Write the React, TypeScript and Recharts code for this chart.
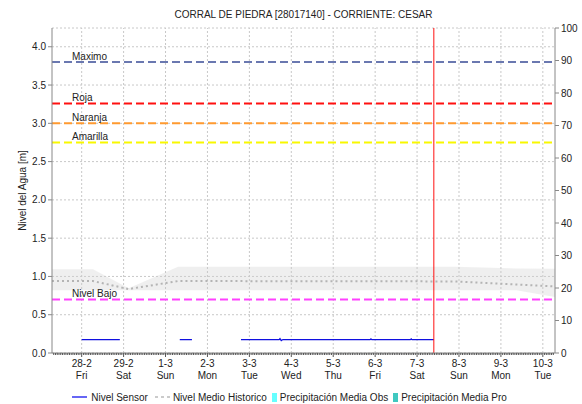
import {
  Area,
  Bar,
  CartesianGrid,
  ComposedChart,
  Legend,
  Line,
  ReferenceLine,
  XAxis,
  YAxis,
} from "recharts";

const FONT = "'Liberation Sans', Arial, sans-serif";

// x values are days counted from 28-2 00:00
const X_START = -0.708;
const X_END = 11.29;
const NOW = 8.4;

const dayTicks = [0, 1, 2, 3, 4, 5, 6, 7, 8, 9, 10, 11];
const dayLabels = ["28-2", "29-2", "1-3", "2-3", "3-3", "4-3", "5-3", "6-3", "7-3", "8-3", "9-3", "10-3"];
const weekDays = ["Fri", "Sat", "Sun", "Mon", "Tue", "Wed", "Thu", "Fri", "Sat", "Sun", "Mon", "Tue"];

const levelTicks = [0, 0.5, 1, 1.5, 2, 2.5, 3, 3.5, 4];
const rainTicks = [0, 10, 20, 30, 40, 50, 60, 70, 80, 90, 100];

// Nivel Sensor
const sensorTime = [0.0, 0.91, 1.5, 2.34, 2.63, 3.2, 3.8, 4.71, 4.73, 4.76, 4.8, 6.88, 6.9, 6.92, 7.84, 7.86, 7.88, 8.4];
const sensorLevel = [0.175, 0.175, null, 0.175, 0.175, null, 0.175, 0.175, 0.188, 0.162, 0.175, 0.175, 0.185, 0.175, 0.175, 0.185, 0.175, 0.175];

// historic band + median
const bandTime = [-0.708, 0.27, 1.12, 2.3, 8.9, 10.37, 11.29];
const bandHigh = [1.095, 1.095, 0.845, 1.125, 1.125, 1.105, 1.1];
const bandLow = [0.82, 0.82, 0.82, 0.82, 0.82, 0.82, 0.73];

const medianTime = [-0.708, 0.27, 1.12, 2.3, 8.9, 11.29];
const medianLevel = [0.94, 0.94, 0.835, 0.94, 0.935, 0.87];

// precipitation (none recorded)
const rainObs = [0, 0, 0, 0, 0, 0, 0, 0, 0, 0, 0, 0];
const rainPro = [0, 0, 0, 0, 0, 0, 0, 0, 0, 0, 0, 0];

// alert levels
const alertNames = ["Maximo", "Roja", "Naranja", "Amarilla", "Nivel Bajo"];
const alertValues = [3.8, 3.26, 3.0, 2.75, 0.7];
const alertColors = ["#6a78b0", "#ff1010", "#ff9a30", "#f8f800", "#ff40ff"];

const sensorData = sensorTime.map((t, i) => ({ t, level: sensorLevel[i] }));
const bandData = bandTime.map((t, i) => ({ t, low: bandLow[i], high: bandHigh[i] }));
const medianData = medianTime.map((t, i) => ({ t, median: medianLevel[i] }));
const rainData = dayTicks.map((t, i) => ({ t, obs: rainObs[i], pro: rainPro[i] }));

const hourTicks: number[] = [];
for (let h = Math.ceil(X_START * 24); h <= Math.floor(X_END * 24); h++) hourTicks.push(h / 24);

const XTick = (props: any) => {
  const { x, y, payload } = props;
  const v = payload.value;
  const idx = Math.round(v);
  if (Math.abs(v - idx) > 1e-6) {
    return <line x1={x} x2={x} y1={y} y2={y + 2} stroke="#555" strokeWidth={1} />;
  }
  const i = dayTicks.indexOf(idx);
  return (
    <g>
      <line x1={x} x2={x} y1={y} y2={y + 4} stroke="#555" strokeWidth={1} />
      <text x={x} y={y + 14} textAnchor="middle" fontSize={10} fontFamily={FONT} fill="#222">
        {dayLabels[i]}
      </text>
      <text x={x} y={y + 26} textAnchor="middle" fontSize={10} fontFamily={FONT} fill="#222">
        {weekDays[i]}
      </text>
    </g>
  );
};

const alertLabel = (name: string) => (props: any) => {
  const { viewBox } = props;
  return (
    <text x={viewBox.x + 20} y={viewBox.y - 2} fontSize={10} fontFamily={FONT} fill="#222">
      {name}
    </text>
  );
};

const yLabel = (props: any) => {
  const { viewBox } = props;
  const cy = viewBox.y + viewBox.height / 2;
  return (
    <text
      x={22}
      y={cy}
      transform={`rotate(-90, 22, ${cy})`}
      textAnchor="middle"
      dominantBaseline="central"
      fontSize={10}
      fontFamily={FONT}
      fill="#222"
    >
      Nivel del Agua [m]
    </text>
  );
};

const renderLegend = () => (
  <div
    style={{
      display: "flex",
      justifyContent: "center",
      alignItems: "center",
      height: 14,
      paddingRight: 3,
      fontSize: 10,
      fontFamily: FONT,
      color: "#222",
      whiteSpace: "nowrap",
    }}
  >
    <svg width={15} height={6} style={{ marginRight: 4 }}>
      <line x1={0} x2={15} y1={3} y2={3} stroke="#0000ee" strokeWidth={1.2} />
    </svg>
    <span style={{ marginRight: 7 }}>Nivel Sensor</span>
    <svg width={15} height={6} style={{ marginRight: 3 }}>
      <line x1={0} x2={15} y1={3} y2={3} stroke="#bbb" strokeWidth={1.5} strokeDasharray="3 3" />
    </svg>
    <span style={{ marginRight: 5 }}>Nivel Medio Historico</span>
    <span style={{ display: "inline-block", width: 5, height: 9, background: "#66ffff", marginRight: 3 }} />
    <span style={{ marginRight: 5 }}>Precipitación Media Obs</span>
    <span style={{ display: "inline-block", width: 5, height: 9, background: "#40c8c0", marginRight: 3 }} />
    <span>Precipitación Media Pro</span>
  </div>
);

export default function App() {
  return (
    <div style={{ position: "absolute", left: 0, top: 0, width: 582, height: 404, background: "#fff" }}>
      <div
        style={{
          position: "absolute",
          left: 0,
          top: 9,
          width: 607,
          textAlign: "center",
          fontSize: 10,
          lineHeight: "12px",
          fontFamily: FONT,
          color: "#222",
        }}
      >
        CORRAL DE PIEDRA [28017140] - CORRIENTE: CESAR
      </div>
      <ComposedChart width={582} height={404} data={rainData} margin={{ top: 28, right: 0, left: 0, bottom: 0 }}>
        <CartesianGrid yAxisId="left" vertical={false} stroke="#c8c8c8" strokeDasharray="2 2" />
        <XAxis
          dataKey="t"
          type="number"
          domain={[X_START, X_END]}
          allowDataOverflow
          ticks={hourTicks}
          interval={0}
          tick={<XTick />}
          tickLine={false}
          tickSize={0}
          tickMargin={0}
          height={37}
          stroke="#888"
        />
        <YAxis
          yAxisId="left"
          type="number"
          domain={[0, 4.245]}
          allowDataOverflow
          ticks={levelTicks}
          tickFormatter={(v: number) => v.toFixed(1)}
          width={52}
          tickSize={4}
          tickMargin={2}
          stroke="#888"
          tick={{ fontSize: 10, fontFamily: FONT, fill: "#222" }}
          label={yLabel}
        />
        <YAxis
          yAxisId="right"
          orientation="right"
          type="number"
          domain={[0, 100]}
          ticks={rainTicks}
          width={27}
          tickSize={4}
          tickMargin={2}
          stroke="#888"
          tick={{ fontSize: 10, fontFamily: FONT, fill: "#222", textAnchor: "start" }}
        />
        {dayTicks.map((d) => (
          <ReferenceLine
            key={`v${d}`}
            yAxisId="left"
            x={d}
            stroke="#c8c8c8"
            strokeDasharray="2 2"
          />
        ))}
        <Area
          yAxisId="left"
          data={bandData}
          dataKey={(r: any) => [r.low, r.high]}
          type="linear"
          stroke="none"
          fill="#d0d0d0"
          fillOpacity={0.35}
          legendType="none"
          isAnimationActive={false}
        />
        <Line
          yAxisId="left"
          data={medianData}
          dataKey="median"
          name="Nivel Medio Historico"
          type="linear"
          stroke="#b4b4b4"
          strokeWidth={2}
          strokeDasharray="2 3"
          dot={false}
          isAnimationActive={false}
        />
        <Bar yAxisId="right" dataKey="obs" name="Precipitación Media Obs" fill="#66ffff" isAnimationActive={false} />
        <Bar yAxisId="right" dataKey="pro" name="Precipitación Media Pro" fill="#40c8c0" isAnimationActive={false} />
        {alertValues.map((v, i) => (
          <ReferenceLine
            key={alertNames[i]}
            yAxisId="left"
            y={v}
            stroke={alertColors[i]}
            strokeWidth={2}
            strokeDasharray="8 4"
            label={alertLabel(alertNames[i])}
          />
        ))}
        <Line
          yAxisId="left"
          data={sensorData}
          dataKey="level"
          name="Nivel Sensor"
          type="linear"
          stroke="#1010e0"
          strokeWidth={1.2}
          dot={false}
          connectNulls={false}
          isAnimationActive={false}
        />
        <ReferenceLine yAxisId="left" x={NOW} stroke="#ff1010" strokeWidth={1} />
        <Legend verticalAlign="bottom" height={14} content={renderLegend} />
      </ComposedChart>
    </div>
  );
}
